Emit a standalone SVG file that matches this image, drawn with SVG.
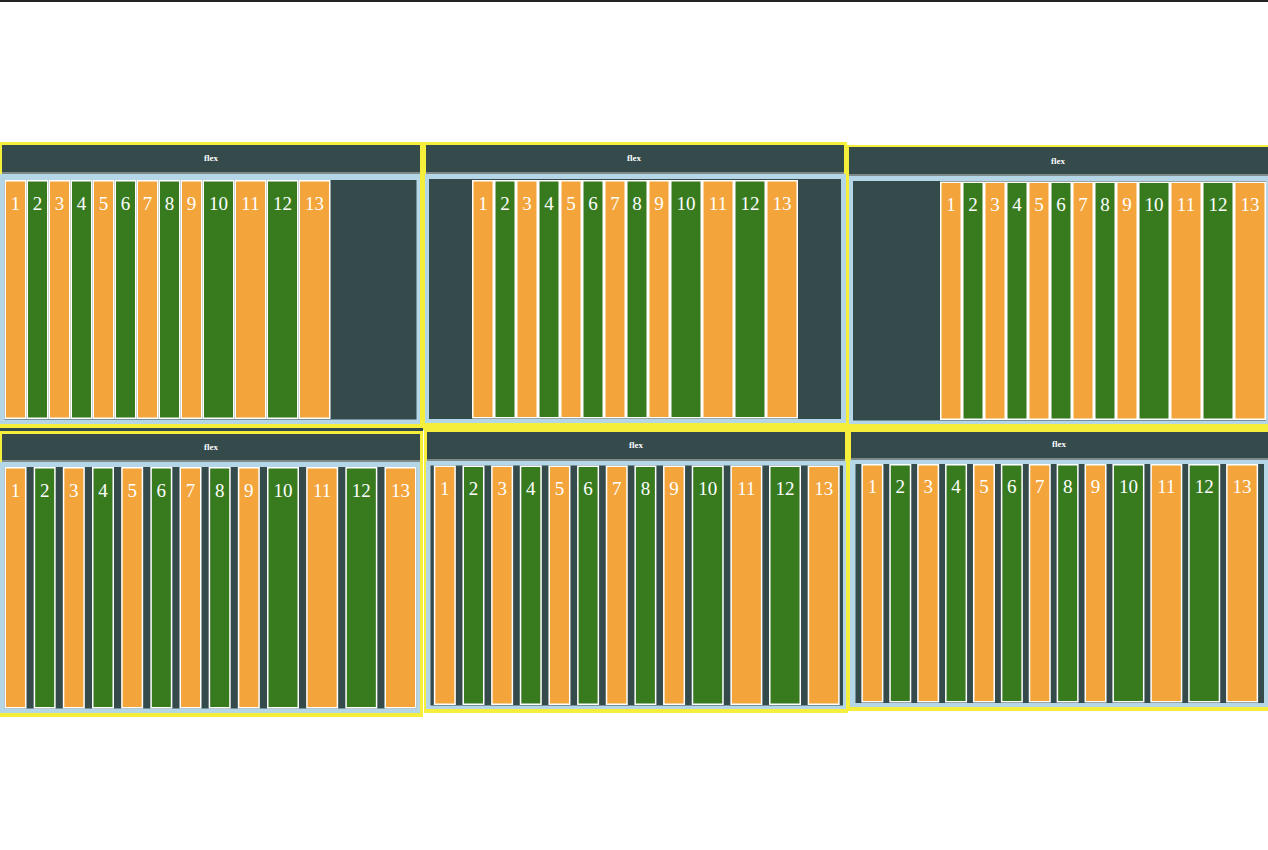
<svg xmlns="http://www.w3.org/2000/svg" width="1268" height="850" viewBox="0 0 1268 850">
<style>
.y{fill:#f5ef3c}.h{fill:#344a4b}.gl{fill:#7e8b8b}.lb{fill:#b4d6e6}.in{fill:#344a4b}
.o{fill:#f3a43b;stroke:#ffffff;stroke-width:1.5}.g{fill:#387b1f;stroke:#ffffff;stroke-width:1.5}
.n{font-family:"Liberation Serif",serif;font-size:19px;fill:#ffffff;text-anchor:middle}
.t{font-family:"Liberation Serif",serif;font-size:9px;font-weight:bold;fill:#ffffff;text-anchor:middle}
</style>
<rect x="0" y="0" width="1268" height="850" fill="#ffffff"/>
<rect x="0" y="0" width="1268" height="2" fill="#222222"/>
<g id="connectors"></g>

<g id="panel1">
<rect class="y" x="0" y="142" width="423" height="286"/>
<rect class="h" x="2" y="145" width="418" height="27"/>
<rect class="gl" x="2" y="172" width="418" height="2"/>
<rect class="lb" x="0" y="174" width="420" height="250"/>
<rect class="in" x="4.5" y="180" width="412" height="239.5"/>
<text class="t" x="211" y="161">flex</text>
<g id="p1-items">
<rect class="o" x="5.25" y="180.75" width="20.5" height="237.5"/><text class="n" x="15.5" y="210">1</text>
<rect class="g" x="27.25" y="180.75" width="20.5" height="237.5"/><text class="n" x="37.5" y="210">2</text>
<rect class="o" x="49.25" y="180.75" width="20.5" height="237.5"/><text class="n" x="59.5" y="210">3</text>
<rect class="g" x="71.25" y="180.75" width="20.5" height="237.5"/><text class="n" x="81.5" y="210">4</text>
<rect class="o" x="93.25" y="180.75" width="20.5" height="237.5"/><text class="n" x="103.5" y="210">5</text>
<rect class="g" x="115.25" y="180.75" width="20.5" height="237.5"/><text class="n" x="125.5" y="210">6</text>
<rect class="o" x="137.25" y="180.75" width="20.5" height="237.5"/><text class="n" x="147.5" y="210">7</text>
<rect class="g" x="159.25" y="180.75" width="20.5" height="237.5"/><text class="n" x="169.5" y="210">8</text>
<rect class="o" x="181.25" y="180.75" width="20.5" height="237.5"/><text class="n" x="191.5" y="210">9</text>
<rect class="g" x="203.25" y="180.75" width="30.5" height="237.5"/><text class="n" x="218.5" y="210">10</text>
<rect class="o" x="235.25" y="180.75" width="30.5" height="237.5"/><text class="n" x="250.5" y="210">11</text>
<rect class="g" x="267.25" y="180.75" width="30.5" height="237.5"/><text class="n" x="282.5" y="210">12</text>
<rect class="o" x="299.25" y="180.75" width="30.5" height="237.5"/><text class="n" x="314.5" y="210">13</text>
</g>
</g>

<g id="panel2">
<rect class="y" x="423" y="142" width="424" height="288"/>
<rect class="h" x="426" y="145" width="418" height="27"/>
<rect class="gl" x="426" y="172" width="418" height="2"/>
<rect class="lb" x="425" y="174" width="421" height="249"/>
<rect class="in" x="429" y="179" width="412" height="240"/>
<text class="t" x="634" y="161">flex</text>
<g id="p2-items">
<rect class="o" x="472.75" y="180.75" width="20.5" height="237"/><text class="n" x="483" y="210">1</text>
<rect class="g" x="494.75" y="180.75" width="20.5" height="237"/><text class="n" x="505" y="210">2</text>
<rect class="o" x="516.75" y="180.75" width="20.5" height="237"/><text class="n" x="527" y="210">3</text>
<rect class="g" x="538.75" y="180.75" width="20.5" height="237"/><text class="n" x="549" y="210">4</text>
<rect class="o" x="560.75" y="180.75" width="20.5" height="237"/><text class="n" x="571" y="210">5</text>
<rect class="g" x="582.75" y="180.75" width="20.5" height="237"/><text class="n" x="593" y="210">6</text>
<rect class="o" x="604.75" y="180.75" width="20.5" height="237"/><text class="n" x="615" y="210">7</text>
<rect class="g" x="626.75" y="180.75" width="20.5" height="237"/><text class="n" x="637" y="210">8</text>
<rect class="o" x="648.75" y="180.75" width="20.5" height="237"/><text class="n" x="659" y="210">9</text>
<rect class="g" x="670.75" y="180.75" width="30.5" height="237"/><text class="n" x="686" y="210">10</text>
<rect class="o" x="702.75" y="180.75" width="30.5" height="237"/><text class="n" x="718" y="210">11</text>
<rect class="g" x="734.75" y="180.75" width="30.5" height="237"/><text class="n" x="750" y="210">12</text>
<rect class="o" x="766.75" y="180.75" width="30.5" height="237"/><text class="n" x="782" y="210">13</text>
</g>
</g>

<g id="panel3">
<rect class="y" x="846" y="145" width="424" height="285"/>
<rect class="h" x="849" y="147" width="419" height="27"/>
<rect class="gl" x="849" y="174" width="419" height="2"/>
<rect class="lb" x="849" y="176" width="419" height="248"/>
<rect class="in" x="853" y="181" width="413" height="239.5"/>
<text class="t" x="1058" y="164">flex</text>
<g id="p3-items">
<rect class="o" x="940.75" y="182.25" width="20.5" height="237"/><text class="n" x="951" y="211">1</text>
<rect class="g" x="962.75" y="182.25" width="20.5" height="237"/><text class="n" x="973" y="211">2</text>
<rect class="o" x="984.75" y="182.25" width="20.5" height="237"/><text class="n" x="995" y="211">3</text>
<rect class="g" x="1006.75" y="182.25" width="20.5" height="237"/><text class="n" x="1017" y="211">4</text>
<rect class="o" x="1028.75" y="182.25" width="20.5" height="237"/><text class="n" x="1039" y="211">5</text>
<rect class="g" x="1050.75" y="182.25" width="20.5" height="237"/><text class="n" x="1061" y="211">6</text>
<rect class="o" x="1072.75" y="182.25" width="20.5" height="237"/><text class="n" x="1083" y="211">7</text>
<rect class="g" x="1094.75" y="182.25" width="20.5" height="237"/><text class="n" x="1105" y="211">8</text>
<rect class="o" x="1116.75" y="182.25" width="20.5" height="237"/><text class="n" x="1127" y="211">9</text>
<rect class="g" x="1138.75" y="182.25" width="30.5" height="237"/><text class="n" x="1154" y="211">10</text>
<rect class="o" x="1170.75" y="182.25" width="30.5" height="237"/><text class="n" x="1186" y="211">11</text>
<rect class="g" x="1202.75" y="182.25" width="30.5" height="237"/><text class="n" x="1218" y="211">12</text>
<rect class="o" x="1234.75" y="182.25" width="30.5" height="237"/><text class="n" x="1250" y="211">13</text>
</g>
</g>

<rect class="h" x="0" y="428" width="423" height="3"/>

<g id="panel4">
<rect class="y" x="0" y="431" width="423" height="286"/>
<rect class="h" x="2" y="434" width="418" height="26"/>
<rect class="gl" x="2" y="460" width="418" height="2"/>
<rect class="lb" x="0" y="462" width="420" height="251"/>
<rect class="in" x="4.5" y="467" width="412" height="241.5"/>
<text class="t" x="211" y="450">flex</text>
<g id="p4-items">
<rect class="o" x="5.25" y="467.75" width="20.5" height="240"/><text class="n" x="15.5" y="497">1</text>
<rect class="g" x="34.42" y="467.75" width="20.5" height="240"/><text class="n" x="44.67" y="497">2</text>
<rect class="o" x="63.58" y="467.75" width="20.5" height="240"/><text class="n" x="73.83" y="497">3</text>
<rect class="g" x="92.75" y="467.75" width="20.5" height="240"/><text class="n" x="103" y="497">4</text>
<rect class="o" x="121.92" y="467.75" width="20.5" height="240"/><text class="n" x="132.17" y="497">5</text>
<rect class="g" x="151.08" y="467.75" width="20.5" height="240"/><text class="n" x="161.33" y="497">6</text>
<rect class="o" x="180.25" y="467.75" width="20.5" height="240"/><text class="n" x="190.5" y="497">7</text>
<rect class="g" x="209.42" y="467.75" width="20.5" height="240"/><text class="n" x="219.67" y="497">8</text>
<rect class="o" x="238.58" y="467.75" width="20.5" height="240"/><text class="n" x="248.83" y="497">9</text>
<rect class="g" x="267.75" y="467.75" width="30.5" height="240"/><text class="n" x="283" y="497">10</text>
<rect class="o" x="306.92" y="467.75" width="30.5" height="240"/><text class="n" x="322.17" y="497">11</text>
<rect class="g" x="346.08" y="467.75" width="30.5" height="240"/><text class="n" x="361.33" y="497">12</text>
<rect class="o" x="385.25" y="467.75" width="30.5" height="240"/><text class="n" x="400.5" y="497">13</text>
</g>
</g>

<g id="panel5">
<rect class="y" x="424" y="430" width="424" height="283"/>
<rect class="h" x="427" y="432" width="418" height="27"/>
<rect class="gl" x="427" y="459" width="418" height="2"/>
<rect class="lb" x="426" y="461" width="420" height="248"/>
<rect class="in" x="430.5" y="465.5" width="412.5" height="240"/>
<text class="t" x="636" y="448">flex</text>
<g id="p5-items">
<rect class="o" x="434.58" y="466.25" width="20.5" height="238"/><text class="n" x="444.83" y="495">1</text>
<rect class="g" x="463.23" y="466.25" width="20.5" height="238"/><text class="n" x="473.48" y="495">2</text>
<rect class="o" x="491.89" y="466.25" width="20.5" height="238"/><text class="n" x="502.14" y="495">3</text>
<rect class="g" x="520.54" y="466.25" width="20.5" height="238"/><text class="n" x="530.79" y="495">4</text>
<rect class="o" x="549.2" y="466.25" width="20.5" height="238"/><text class="n" x="559.45" y="495">5</text>
<rect class="g" x="577.85" y="466.25" width="20.5" height="238"/><text class="n" x="588.1" y="495">6</text>
<rect class="o" x="606.5" y="466.25" width="20.5" height="238"/><text class="n" x="616.75" y="495">7</text>
<rect class="g" x="635.16" y="466.25" width="20.5" height="238"/><text class="n" x="645.41" y="495">8</text>
<rect class="o" x="663.81" y="466.25" width="20.5" height="238"/><text class="n" x="674.06" y="495">9</text>
<rect class="g" x="692.47" y="466.25" width="30.5" height="238"/><text class="n" x="707.72" y="495">10</text>
<rect class="o" x="731.12" y="466.25" width="30.5" height="238"/><text class="n" x="746.37" y="495">11</text>
<rect class="g" x="769.78" y="466.25" width="30.5" height="238"/><text class="n" x="785.03" y="495">12</text>
<rect class="o" x="808.43" y="466.25" width="30.5" height="238"/><text class="n" x="823.68" y="495">13</text>
</g>
</g>

<g id="panel6">
<rect class="y" x="848" y="429" width="422" height="282"/>
<rect class="h" x="851" y="432" width="417" height="26"/>
<rect class="gl" x="851" y="458" width="417" height="2"/>
<rect class="lb" x="850" y="460" width="418" height="247"/>
<rect class="in" x="855.5" y="464" width="408.5" height="239"/>
<text class="t" x="1059" y="447">flex</text>
<g id="p6-items">
<rect class="o" x="862.14" y="464.75" width="20.5" height="237"/><text class="n" x="872.39" y="493">1</text>
<rect class="g" x="890.04" y="464.75" width="20.5" height="237"/><text class="n" x="900.29" y="493">2</text>
<rect class="o" x="917.93" y="464.75" width="20.5" height="237"/><text class="n" x="928.18" y="493">3</text>
<rect class="g" x="945.82" y="464.75" width="20.5" height="237"/><text class="n" x="956.07" y="493">4</text>
<rect class="o" x="973.71" y="464.75" width="20.5" height="237"/><text class="n" x="983.96" y="493">5</text>
<rect class="g" x="1001.61" y="464.75" width="20.5" height="237"/><text class="n" x="1011.86" y="493">6</text>
<rect class="o" x="1029.5" y="464.75" width="20.5" height="237"/><text class="n" x="1039.75" y="493">7</text>
<rect class="g" x="1057.39" y="464.75" width="20.5" height="237"/><text class="n" x="1067.64" y="493">8</text>
<rect class="o" x="1085.29" y="464.75" width="20.5" height="237"/><text class="n" x="1095.54" y="493">9</text>
<rect class="g" x="1113.18" y="464.75" width="30.5" height="237"/><text class="n" x="1128.43" y="493">10</text>
<rect class="o" x="1151.07" y="464.75" width="30.5" height="237"/><text class="n" x="1166.32" y="493">11</text>
<rect class="g" x="1188.96" y="464.75" width="30.5" height="237"/><text class="n" x="1204.21" y="493">12</text>
<rect class="o" x="1226.86" y="464.75" width="30.5" height="237"/><text class="n" x="1242.11" y="493">13</text>
</g>
</g>
</svg>
